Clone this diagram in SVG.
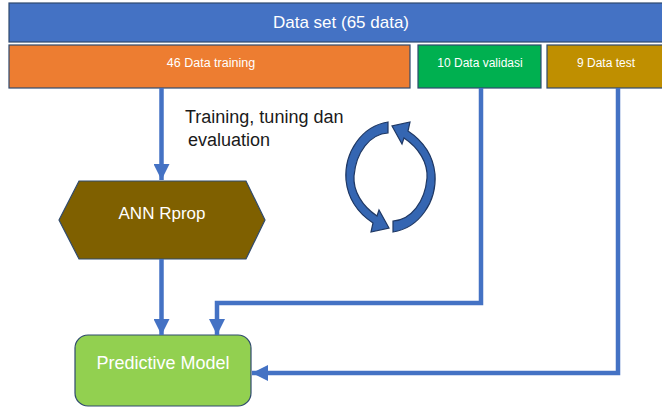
<svg xmlns="http://www.w3.org/2000/svg" width="662" height="407" viewBox="0 0 662 407">
  <style>
    .lbl { font-family: "Liberation Sans", Arial, sans-serif; fill: #ffffff; text-anchor: middle; }
    .note { font-family: "Liberation Sans", Arial, sans-serif; fill: #1a1a1a; font-size: 18px; }
    .box { stroke: #2f4a6e; stroke-width: 1.2; }
    .wire { fill: none; stroke: #4472c4; stroke-width: 4.5; stroke-linejoin: miter; }
    .cyc { fill: #3566b2; stroke: #1f3864; stroke-width: 1.2; }
  </style>
  <defs>
    <marker id="head" markerUnits="userSpaceOnUse" markerWidth="17" markerHeight="16" refX="16" refY="8" orient="auto">
      <path d="M0,0 L16,8 L0,16 Z" fill="#4472c4"/>
    </marker>
    <!-- one half of the circular loop; the second half is this shape turned 180 degrees -->
    <path id="halfLoop" d="M388,122 C362,126 344,152 346,180 C348,200 358,213 373,223 L371,232 L389,228 L379,210 L377,216 C362,206 353,191 354,176 C356,152 370,134 388,133 Z"/>
  </defs>

  <rect width="662" height="407" fill="#ffffff"/>

  <g id="dataset">
    <rect class="box" x="9" y="3" width="660" height="39" fill="#4472c4"/>
    <text class="lbl" x="341" y="28" font-size="17">Data set (65 data)</text>
  </g>

  <g id="training">
    <rect class="box" x="9" y="45" width="401" height="43" fill="#ed7d31"/>
    <text class="lbl" x="211" y="67" font-size="12.5">46 Data training</text>
  </g>

  <g id="validasi">
    <rect class="box" x="418" y="45" width="123" height="43" fill="#00b050"/>
    <text class="lbl" x="480" y="67" font-size="12">10 Data validasi</text>
  </g>

  <g id="test">
    <rect class="box" x="547" y="45" width="120" height="43" fill="#bf8f00"/>
    <text class="lbl" x="606" y="67" font-size="12">9 Data test</text>
  </g>

  <g id="ann">
    <polygon class="box" points="59,220 79,181 246,181 265,220 246,259 79,259" fill="#7f6000"/>
    <text class="lbl" x="162" y="219" font-size="17">ANN Rprop</text>
  </g>

  <g id="model">
    <rect class="box" x="75" y="335" width="176" height="71" rx="13" fill="#92d050"/>
    <text class="lbl" x="163" y="369" font-size="18">Predictive Model</text>
  </g>

  <g id="caption">
    <text class="note" x="185" y="123">Training, tuning dan</text>
    <text class="note" x="188" y="146">evaluation</text>
  </g>

  <g id="cycle">
    <use class="cyc" href="#halfLoop"/>
    <use class="cyc" href="#halfLoop" transform="rotate(180 390.5 177)"/>
  </g>

  <g id="connectors">
    <path class="wire" d="M161.5,88 V180" marker-end="url(#head)"/>
    <path class="wire" d="M161.5,259 V335" marker-end="url(#head)"/>
    <path class="wire" d="M481,88 V303 H217 V335" marker-end="url(#head)"/>
    <path class="wire" d="M618,88 V373 H252" marker-end="url(#head)"/>
  </g>
</svg>
